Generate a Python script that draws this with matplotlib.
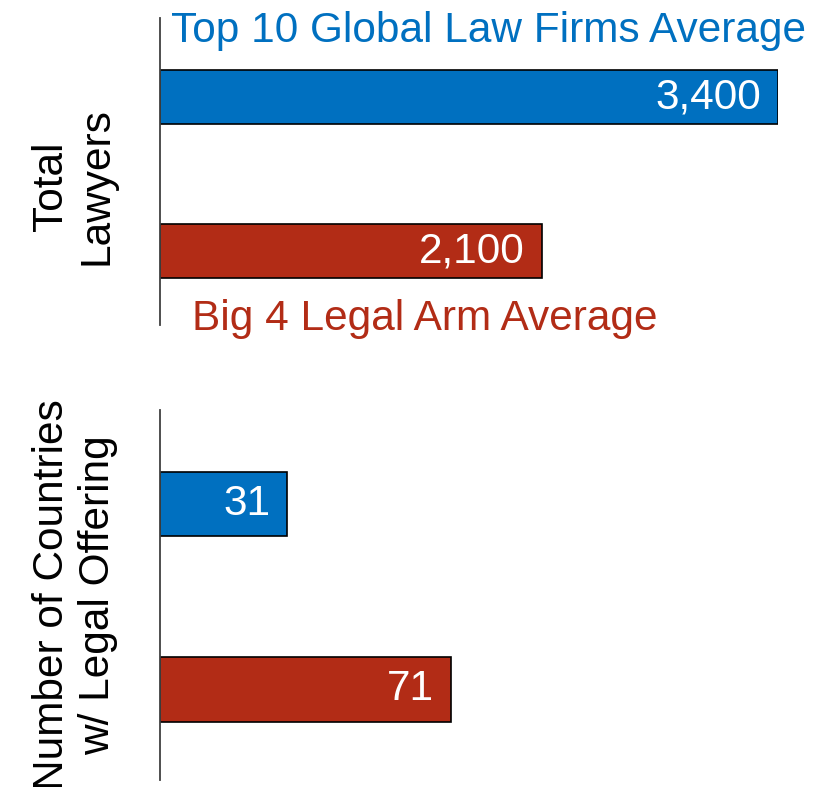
import matplotlib.pyplot as plt

plt.rcParams['font.family'] = ['Liberation Sans', 'DejaVu Sans']

# Data
groups = ['Top 10 Global Law Firms Average', 'Big 4 Legal Arm Average']
colors = ['#0070C0', '#B22C16']
lawyers = [3400, 2100]
countries = [31, 71]
lawyer_labels = ['3,400', '2,100']
country_labels = ['31', '71']

W, H = 820, 787
fig = plt.figure(figsize=(W / 100, H / 100), dpi=100)

def px_axes(left, top, right, bottom):
    return fig.add_axes([left / W, 1 - bottom / H, (right - left) / W, (bottom - top) / H])

ax1 = px_axes(160, 18, 778, 325)
ax2 = px_axes(160, 410, 778, 780)

def draw(ax, values, labels, xmax, ylim, height):
    ypos = list(range(len(values)))
    ax.barh(ypos, values, height=height, color=colors, edgecolor='black', linewidth=1.2)
    for y, v, lab in zip(ypos, values, labels):
        ax.annotate(lab, (v, y), xytext=(-12, 0), textcoords='offset points',
                    ha='right', va='center', color='white', fontsize=30.5)
    ax.set_xlim(0, xmax)
    ax.set_ylim(*ylim)
    for s in ['top', 'right', 'bottom']:
        ax.spines[s].set_visible(False)
    ax.spines['left'].set_color('#404040')
    ax.spines['left'].set_linewidth(1.3)
    ax.set_xticks([])
    ax.set_yticks([])

draw(ax1, lawyers, lawyer_labels, 3400, (1.48, -0.513), 0.35)
draw(ax2, countries, country_labels, 150.7, (1.49, -0.508), 0.35)

# group labels
fig.text(171 / W, 1 - 31 / H, groups[0], color=colors[0], fontsize=30.5, ha='left', va='center')
fig.text(192 / W, 1 - 319 / H, groups[1], color=colors[1], fontsize=30.5, ha='left', va='center')

# axis titles
fig.text(74 / W, 1 - 186 / H, 'Total\nLawyers', rotation=90, fontsize=30.5,
         ha='center', va='center', multialignment='center', linespacing=1.18)
fig.text(75 / W, 1 - 595 / H, 'Number of Countries\nw/ Legal Offering', rotation=90, fontsize=30.5,
         ha='center', va='center', multialignment='center', linespacing=1.18)

fig.savefig('out.png', dpi=100)
